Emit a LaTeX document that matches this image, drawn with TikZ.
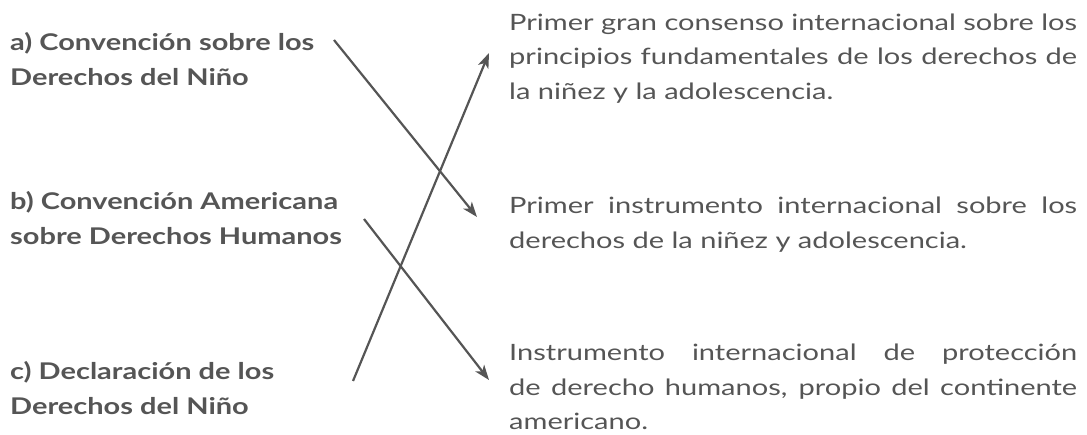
\documentclass[tikz,border=0pt]{standalone}
\usepackage{fontspec}
\setmainfont{Lato}
\newfontfamily\leftfont{Lato}[FakeStretch=1.26]
\newfontfamily\rightfont{Lato}[FakeStretch=1.29]
\usetikzlibrary{arrows.meta}
\definecolor{txtgray}{RGB}{85,85,85}
\definecolor{linegray}{RGB}{85,85,85}
\tikzset{
  lefttxt/.style={anchor=base west, inner sep=0pt, text=txtgray, font=\leftfont\bfseries\fontsize{23}{35}\selectfont},
  righttxt/.style={anchor=base west, inner sep=0pt, text=txtgray, font=\rightfont\fontsize{22.5}{34.3}\selectfont},
  link/.style={draw=linegray, line width=2.2pt, -{Stealth[length=15pt,width=11pt,inset=4pt]}},
}
\newcommand{\jline}[1]{\hbox to\linewidth{#1}}
\begin{document}
\begin{tikzpicture}[x=1pt,y=-1pt]
\useasboundingbox (0,0) rectangle (1087,435);
\node[lefttxt] (la) at (10,51) {\parbox[t]{340pt}{a) Convención sobre los\\Derechos del Niño}};
\node[lefttxt] (lb) at (10,210) {\parbox[t]{340pt}{b) Convención Americana\\sobre Derechos Humanos}};
\node[lefttxt] (lc) at (10,380) {\parbox[t]{340pt}{c) Declaración de los\\Derechos del Niño}};
\node[righttxt] (r1) at (509,30.5) {\parbox[t]{568pt}{\jline{Primer gran consenso internacional sobre los}\jline{principios fundamentales de los derechos de}\hbox{la niñez y la adolescencia.}}};
\node[righttxt] (r2) at (509,214) {\parbox[t]{568pt}{\jline{Primer instrumento internacional sobre los}\hbox{derechos de la niñez y adolescencia.}}};
\node[righttxt] (r3) at (509,361) {\parbox[t]{568pt}{\jline{Instrumento internacional de protección}\jline{de derecho humanos, propio del continente}\hbox{americano.}}};
\coordinate (a0) at (334,40);
\coordinate (a1) at (477,217);
\coordinate (b0) at (364,219);
\coordinate (b1) at (489,380);
\coordinate (c0) at (353,381);
\coordinate (c1) at (489,53);
\draw[link] (a0) -- (a1);
\draw[link] (b0) -- (b1);
\draw[link] (c0) -- (c1);
\end{tikzpicture}
\end{document}
